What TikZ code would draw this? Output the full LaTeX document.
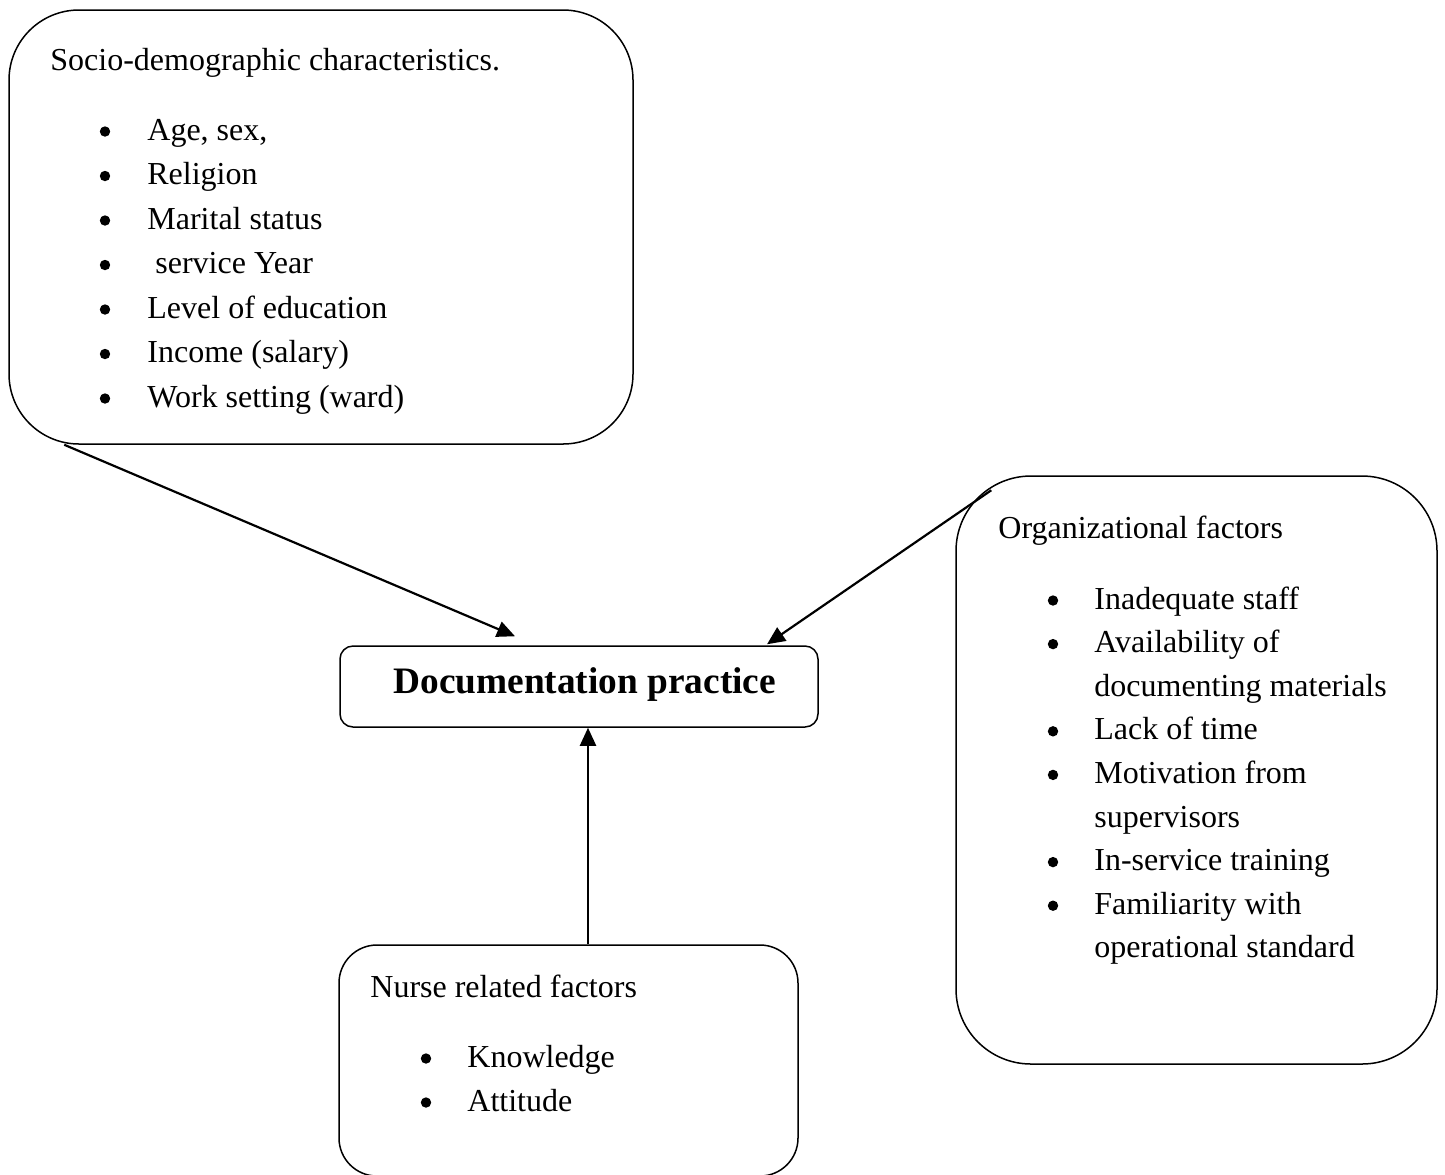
\documentclass[tikz,border=0pt]{standalone}
\usepackage{fontspec}
\setmainfont{Liberation Serif}
\usetikzlibrary{arrows.meta,calc}
\begin{document}
\begin{tikzpicture}[x=0.5pt,y=-0.5pt,
  box/.style={draw, line width=0.75pt, inner sep=0pt, rectangle},
  txt/.style={anchor=base west, inner sep=0pt, font=\fontsize{16}{19}\selectfont},
  bul/.style={circle, fill, inner sep=0pt, minimum size=5.2pt},
  arr/.style={line width=1.1pt, -{Triangle[length=9pt,width=8pt]}}]
\useasboundingbox (0,0) rectangle (1445,1174);
\begin{scope}
\clip (0,0) rectangle (1445,1174);
% boxes
\node[box, rounded corners=35pt, minimum width=312pt, minimum height=217pt] (socio) at (321,227) {};
\node[box, rounded corners=6.5pt, minimum width=239pt, minimum height=40.5pt] (doc) at (579,686.5) {};
\node[box, rounded corners=37.5pt, minimum width=240.5pt, minimum height=294pt] (org) at (1196.5,770) {};
\node[box, rounded corners=19pt, minimum width=229.5pt, minimum height=115.5pt] (nurse) at (568.5,1060.5) {};
\end{scope}
% socio-demographic text
\node[txt] (sociotitle) at (50,70) {Socio-demographic characteristics.};
\foreach \t [count=\i] in {{Age, sex,},Religion,Marital status,{\ service Year},Level of education,Income (salary),Work setting (ward)} {
  \node[bul] (sb\i) at (105,{131.5+(\i-1)*44.5}) {};
  \node[txt] (st\i) at (147,{140+(\i-1)*44.5}) {\t};
}
% documentation practice
\node[anchor=base west, inner sep=0pt, font=\fontsize{18.67}{22}\selectfont\bfseries] (doctext) at (393,693) {Documentation practice};
% organizational factors
\node[txt] (orgtitle) at (998,538) {Organizational factors};
\foreach \t/\b [count=\i] in {Inadequate staff/1,Availability of/1,documenting materials/0,Lack of time/1,Motivation from/1,supervisors/0,In-service training/1,Familiarity with/1,operational standard/0} {
  \ifnum\b=1
    \node[bul] (ob\i) at (1053,{600.5+(\i-1)*43.6}) {};
  \fi
  \node[txt] (ot\i) at (1094,{609+(\i-1)*43.6}) {\t};
}
% nurse related factors
\node[txt] (nursetitle) at (370,997) {Nurse related factors};
\foreach \t [count=\i] in {Knowledge,Attitude} {
  \node[bul] (nb\i) at (426,{1058.5+(\i-1)*44}) {};
  \node[txt] (nt\i) at (467,{1067+(\i-1)*44}) {\t};
}
% arrows
\draw[arr] ($(socio.south west)+(56,0)$) -- ($(doc.north)+(-64,-9)$);
\draw[arr] ($(org.north west)+(36,15)$) -- ($(doc.north)+(188,-1)$);
\draw[arr] ($(nurse.north)+(19.5,0)$) -- ($(doc.south)+(9,0)$);
\end{tikzpicture}
\end{document}
